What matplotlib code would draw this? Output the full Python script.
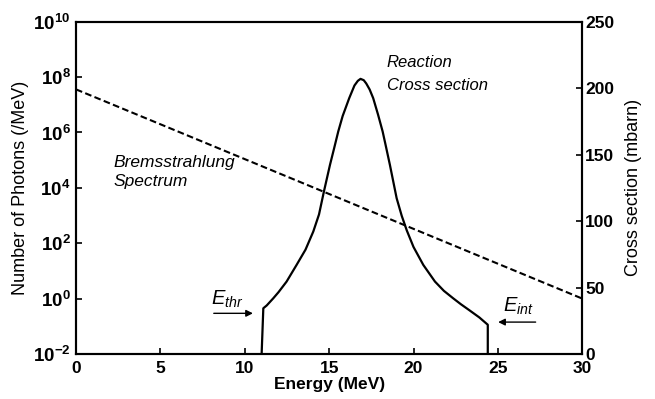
import numpy as np
import matplotlib
matplotlib.use('Agg')
from matplotlib import pyplot as plt

plt.rcParams['font.family'] = ['Liberation Sans', 'DejaVu Sans']
plt.rcParams['mathtext.fontset'] = 'custom'
plt.rcParams['mathtext.bf'] = 'Liberation Sans:bold'
plt.rcParams['mathtext.it'] = 'Liberation Sans:italic'
plt.rcParams['mathtext.rm'] = 'Liberation Sans'

# bremsstrahlung spectrum (photons / MeV), straight on log scale
brems_e = [0.0, 30.0]
brems_n = [3.6e7, 1.0]

# reaction cross section (mbarn)
xs_e = [11.0, 11.1, 11.3, 11.69, 12.0, 12.48, 13.07, 13.6, 14.06, 14.4,
        14.69, 15.05, 15.3, 15.54, 15.8, 16.19, 16.5, 16.7, 16.86, 17.05,
        17.2, 17.4, 17.61, 17.9, 18.17, 18.35, 18.6, 19.0, 19.3, 19.6, 20.0,
        20.58, 21.27, 21.8, 22.35, 22.8, 23.3, 23.9, 24.4, 24.4]
xs_mb = [0.0, 34.4, 36.5, 41.9, 46.5, 54.5, 67.0, 78.5, 92.1, 105.0,
         122.2, 142.3, 155.0, 167.4, 179.0, 192.5, 202.0, 205.5, 207.0, 206.0,
         203.5, 199.0, 192.5, 180.0, 167.4, 157.0, 142.3, 117.2, 104.0, 93.0, 80.5,
         67.0, 54.5, 47.5, 41.9, 37.5, 33.0, 27.5, 22.0, 0.0]

xticks = [0, 5, 10, 15, 20, 25, 30]
left_exps = [-2, 0, 2, 4, 6, 8, 10]
right_ticks = [0, 50, 100, 150, 200, 250]

fig = plt.figure(figsize=(6.55, 3.99), dpi=100)
ax = fig.add_axes([0.116, 0.1128, 0.773, 0.8328])
ax2 = ax.twinx()

ax.plot(brems_e, brems_n, color='black', lw=1.5, dashes=(3.2, 1.6))
ax.set_yscale('log')
ax.set_ylim(1e-2, 1e10)
ax.set_xlim(0, 30)
ax.set_yticks([10.0 ** k for k in left_exps])
ax.set_yticklabels([r'$\mathbf{10^{%d}}$' % k for k in left_exps])
ax.minorticks_off()
ax.set_xticks(xticks)

ax2.plot(xs_e, xs_mb, color='black', lw=1.6, solid_joinstyle='round')
ax2.set_ylim(0, 250)
ax2.set_yticks(right_ticks)

for a in (ax, ax2):
    for s in a.spines.values():
        s.set_linewidth(1.5)
    a.tick_params(direction='in', length=4, width=1.2, labelsize=12.5)
ax.tick_params(axis='y', labelsize=13.5, pad=4)
for lab in ax.get_xticklabels() + ax2.get_yticklabels():
    lab.set_fontweight('bold')
ax.tick_params(axis='x', pad=5)
ax2.tick_params(axis='y', pad=2)

ax.set_xlabel('Energy (MeV)', fontsize=12.5, fontweight='bold', labelpad=1)
ax.set_ylabel('Number of Photons (/MeV)', fontsize=13, labelpad=3)
ax2.set_ylabel('Cross section (mbarn)', fontsize=13, labelpad=8)

# annotations (placed on the linear cross-section axis)
ax2.text(18.4, 219, 'Reaction', fontsize=12, style='italic', va='center')
ax2.text(18.4, 202, 'Cross section', fontsize=12, style='italic', va='center')
ax2.text(2.2, 144, 'Bremsstrahlung', fontsize=12.5, style='italic', va='center')
ax2.text(2.2, 130, 'Spectrum', fontsize=12.5, style='italic', va='center')

ax2.text(8.0, 41, r'$\mathit{E_{thr}}$', fontsize=14.5, va='center')
ax2.annotate('', xy=(10.65, 30.6), xytext=(8.0, 30.6),
             arrowprops=dict(arrowstyle='-|>', color='black', lw=1.0,
                             mutation_scale=10))
ax2.text(25.3, 35.5, r'$\mathit{E_{int}}$', fontsize=14.5, va='center')
ax2.annotate('', xy=(24.85, 24.0), xytext=(27.4, 24.0),
             arrowprops=dict(arrowstyle='-|>', color='black', lw=1.0,
                             mutation_scale=10))

fig.savefig('out.png', dpi=100)
